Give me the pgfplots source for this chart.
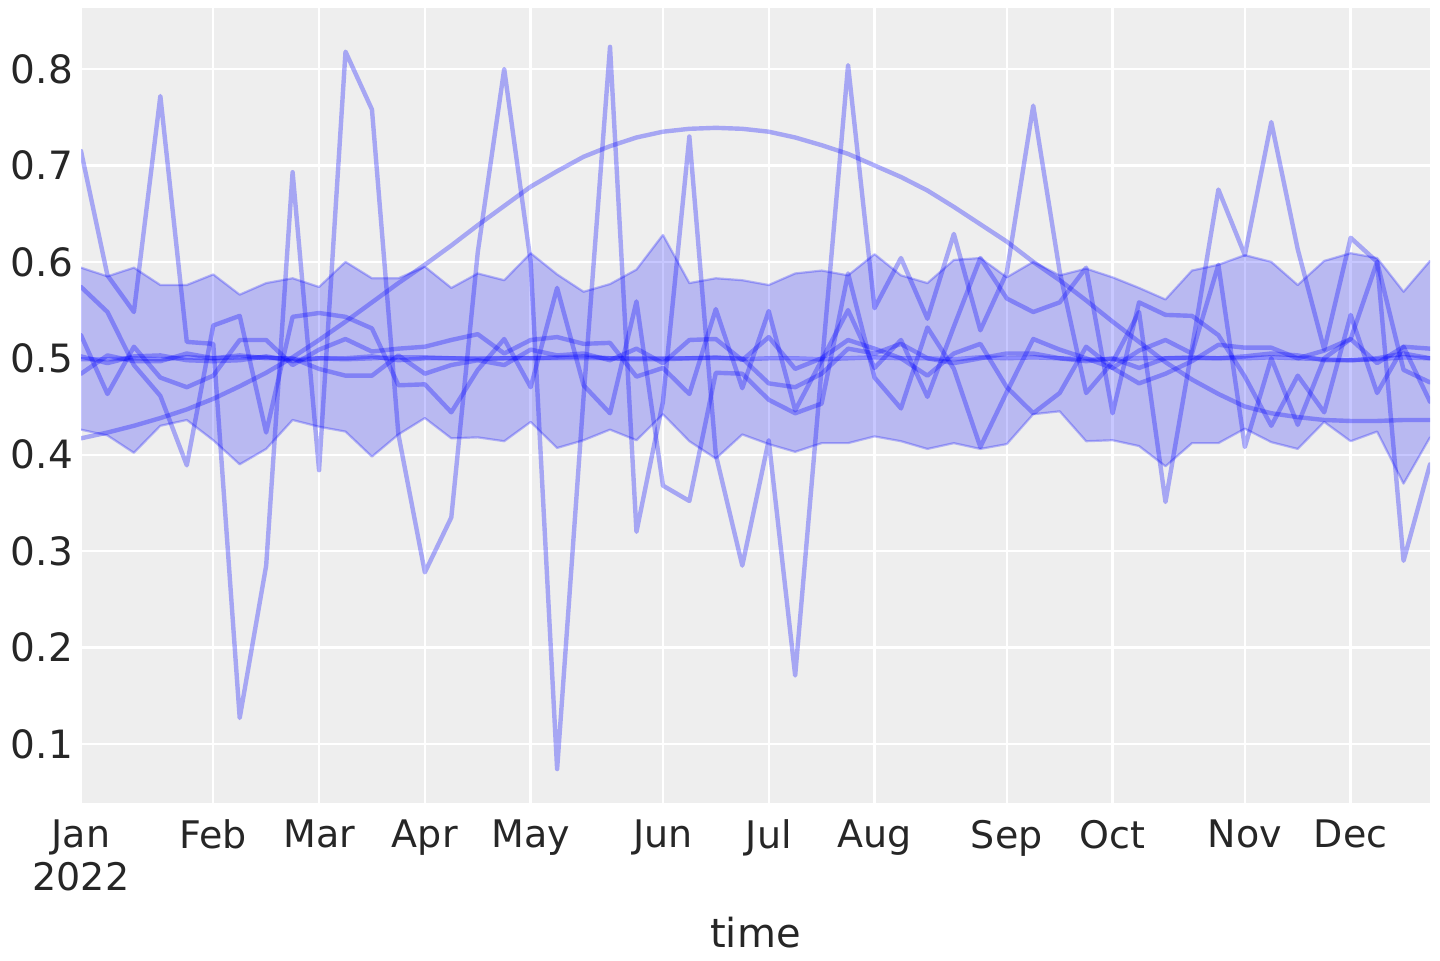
\documentclass[border=0pt]{standalone}
\usepackage{fontspec}
\setmainfont{DejaVu Sans}
\usepackage{pgfplots}
\usepackage{pgfplotstable}
\usepgfplotslibrary{fillbetween}
\pgfplotsset{compat=1.18}
\definecolor{bg}{HTML}{EEEEEE}
\definecolor{txt}{HTML}{262626}
\pgfplotstableread{
x top bot mu smooth la lb lc ld le
0 0.594 0.426 0.499 0.417 0.715 0.574 0.524 0.484 0.502
1 0.585 0.420 0.499 0.423 0.586 0.548 0.463 0.503 0.495
2 0.594 0.402 0.500 0.430 0.548 0.493 0.512 0.497 0.502
3 0.576 0.430 0.499 0.438 0.772 0.461 0.480 0.497 0.503
4 0.576 0.436 0.501 0.447 0.517 0.389 0.470 0.505 0.498
5 0.587 0.415 0.500 0.458 0.515 0.534 0.482 0.500 0.497
6 0.566 0.390 0.501 0.471 0.127 0.544 0.519 0.503 0.498
7 0.578 0.406 0.501 0.485 0.285 0.423 0.519 0.500 0.502
8 0.583 0.436 0.499 0.501 0.693 0.543 0.493 0.500 0.497
9 0.574 0.429 0.500 0.519 0.384 0.547 0.509 0.489 0.500
10 0.600 0.424 0.499 0.538 0.818 0.543 0.520 0.482 0.500
11 0.583 0.398 0.500 0.558 0.758 0.531 0.507 0.482 0.502
12 0.583 0.421 0.501 0.578 0.421 0.472 0.510 0.503 0.498
13 0.595 0.438 0.501 0.597 0.278 0.473 0.512 0.484 0.500
14 0.573 0.417 0.500 0.617 0.335 0.444 0.519 0.493 0.500
15 0.588 0.418 0.499 0.638 0.610 0.488 0.525 0.498 0.500
16 0.581 0.414 0.500 0.658 0.800 0.520 0.505 0.493 0.500
17 0.609 0.434 0.500 0.678 0.600 0.470 0.519 0.509 0.500
18 0.587 0.407 0.501 0.694 0.074 0.573 0.522 0.503 0.500
19 0.569 0.415 0.502 0.709 0.460 0.472 0.515 0.505 0.500
20 0.577 0.426 0.500 0.720 0.823 0.443 0.516 0.498 0.500
21 0.592 0.415 0.499 0.729 0.320 0.559 0.481 0.510 0.500
22 0.628 0.442 0.499 0.735 0.455 0.368 0.490 0.495 0.500
23 0.578 0.414 0.500 0.738 0.730 0.352 0.463 0.519 0.500
24 0.583 0.396 0.501 0.739 0.400 0.485 0.551 0.520 0.500
25 0.581 0.421 0.499 0.738 0.285 0.484 0.469 0.498 0.500
26 0.576 0.411 0.500 0.735 0.415 0.457 0.549 0.522 0.474
27 0.588 0.403 0.500 0.729 0.171 0.443 0.446 0.489 0.470
28 0.591 0.412 0.499 0.721 0.490 0.453 0.498 0.500 0.484
29 0.586 0.412 0.500 0.712 0.804 0.588 0.550 0.519 0.510
30 0.608 0.419 0.501 0.700 0.552 0.480 0.490 0.510 0.505
31 0.586 0.414 0.500 0.688 0.604 0.448 0.519 0.500 0.515
32 0.578 0.406 0.500 0.674 0.541 0.532 0.460 0.482 0.500
33 0.602 0.412 0.499 0.657 0.629 0.489 0.533 0.505 0.495
34 0.604 0.406 0.501 0.639 0.529 0.408 0.604 0.515 0.500
35 0.584 0.411 0.500 0.621 0.589 0.465 0.562 0.470 0.505
36 0.600 0.442 0.501 0.600 0.762 0.520 0.548 0.443 0.505
37 0.586 0.445 0.500 0.581 0.590 0.509 0.558 0.464 0.500
38 0.593 0.414 0.499 0.560 0.464 0.500 0.594 0.512 0.497
39 0.584 0.415 0.499 0.538 0.496 0.490 0.443 0.490 0.500
40 0.573 0.409 0.500 0.517 0.548 0.508 0.558 0.474 0.490
41 0.561 0.388 0.500 0.496 0.351 0.519 0.545 0.484 0.500
42 0.591 0.412 0.501 0.478 0.510 0.505 0.544 0.497 0.500
43 0.597 0.412 0.500 0.463 0.675 0.597 0.524 0.514 0.500
44 0.607 0.427 0.500 0.450 0.607 0.408 0.481 0.511 0.502
45 0.600 0.413 0.501 0.443 0.745 0.500 0.430 0.511 0.505
46 0.576 0.406 0.500 0.439 0.613 0.431 0.482 0.500 0.503
47 0.601 0.434 0.499 0.436 0.509 0.500 0.444 0.508 0.498
48 0.609 0.414 0.498 0.435 0.625 0.520 0.545 0.520 0.498
49 0.604 0.424 0.499 0.435 0.600 0.600 0.464 0.495 0.500
50 0.569 0.370 0.501 0.436 0.290 0.488 0.512 0.512 0.505
51 0.601 0.418 0.500 0.436 0.390 0.475 0.455 0.510 0.500
}\datatab
\begin{document}
\begin{tikzpicture}
\begin{axis}[
  at={(0,0)}, anchor=south west,
  scale only axis, width=674.5pt, height=397.5pt,
  xmin=0, xmax=51, ymin=0.0388, ymax=0.8633,
  axis background/.style={fill=bg},
  axis line style={draw=none},
  grid=major, major grid style={white, line width=1.2pt},
  tick style={draw=none},
  xtick={0,5,9,13,17,22,26,30,35,39,44,48},
  xticklabels={{Jan\\2022},Feb,Mar,Apr,May,Jun,Jul,Aug,Sep,Oct,Nov,Dec},
  xticklabel style={align=center, font=\fontsize{19}{21.5}\selectfont, text=txt, yshift=-5pt},
  ytick={0.1,0.2,0.3,0.4,0.5,0.6,0.7,0.8},
  yticklabels={0.1,0.2,0.3,0.4,0.5,0.6,0.7,0.8},
  yticklabel style={font=\fontsize{19.5}{22}\selectfont, text=txt, xshift=-0.5pt},
  xlabel={time},
  xlabel style={font=\fontsize{20}{22}\selectfont, text=txt, yshift=-6pt},
  every axis plot/.append style={line join=round, line cap=round},
]
\addplot[name path=top, draw=none] table[x=x,y=top]{\datatab};
\addplot[name path=bot, draw=none] table[x=x,y=bot]{\datatab};
\addplot[fill=blue, fill opacity=0.22, draw=none] fill between[of=top and bot];
\addplot[blue, draw opacity=0.25, line width=1.1pt] table[x=x,y=top]{\datatab};
\addplot[blue, draw opacity=0.25, line width=1.1pt] table[x=x,y=bot]{\datatab};
\addplot[blue, draw opacity=0.3, line width=2.2pt] table[x=x,y=smooth]{\datatab};
\addplot[blue, draw opacity=0.3, line width=2.2pt] table[x=x,y=la]{\datatab};
\addplot[blue, draw opacity=0.3, line width=2.2pt] table[x=x,y=lb]{\datatab};
\addplot[blue, draw opacity=0.3, line width=2.2pt] table[x=x,y=lc]{\datatab};
\addplot[blue, draw opacity=0.3, line width=2.2pt] table[x=x,y=ld]{\datatab};
\addplot[blue, draw opacity=0.3, line width=2.2pt] table[x=x,y=le]{\datatab};
\addplot[blue, draw opacity=0.3, line width=2.2pt] table[x=x,y=mu]{\datatab};
\end{axis}
\pgfresetboundingbox
\path[use as bounding box] (-40.5pt,-78.5pt) rectangle (679.5pt,401.5pt);
\end{tikzpicture}
\end{document}
